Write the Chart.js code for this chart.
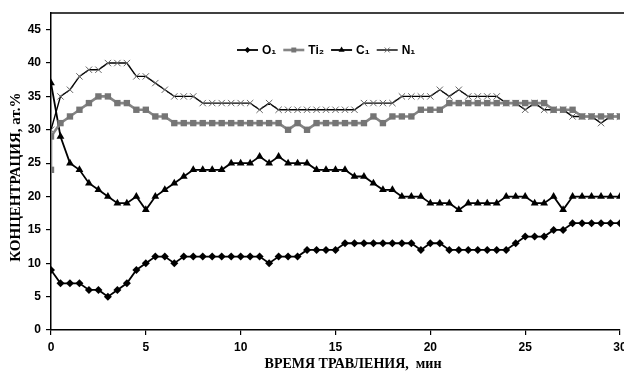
<!DOCTYPE html>
<html>
<head>
<meta charset="utf-8">
<script src="https://cdn.jsdelivr.net/npm/chart.js@4.4.1/dist/chart.umd.min.js"></script>
<style>
  html, body { margin: 0; padding: 0; background: #fff; overflow: hidden; }
  #wrap { width: 640px; height: 373px; }
</style>
</head>
<body>
<div id="wrap"><canvas id="etchChart"></canvas></div>
<script>
// etching time, min (a reading every half minute)
const minutes = [0, 0.5, 1, 1.5, 2, 2.5, 3, 3.5, 4, 4.5, 5, 5.5, 6, 6.5, 7, 7.5, 8, 8.5, 9, 9.5,
    10, 10.5, 11, 11.5, 12, 12.5, 13, 13.5, 14, 14.5, 15, 15.5, 16, 16.5, 17, 17.5, 18, 18.5, 19, 19.5,
    20, 20.5, 21, 21.5, 22, 22.5, 23, 23.5, 24, 24.5, 25, 25.5, 26, 26.5, 27, 27.5, 28, 28.5, 29, 29.5, 30];

const oxygen = [9, 7, 7, 7, 6, 6, 5, 6, 7, 9, 10, 11, 11, 10, 11, 11, 11, 11, 11, 11,
    11, 11, 11, 10, 11, 11, 11, 12, 12, 12, 12, 13, 13, 13, 13, 13, 13, 13, 13, 12,
    13, 13, 12, 12, 12, 12, 12, 12, 12, 13, 14, 14, 14, 15, 15, 16, 16, 16, 16, 16, 16];

// titanium has two readings at t = 0
const tiMinutes = [0].concat(minutes);
const titanium = [24, 29, 31, 32, 33, 34, 35, 35, 34, 34, 33, 33, 32, 32, 31, 31, 31, 31, 31, 31, 31,
    31, 31, 31, 31, 31, 30, 31, 30, 31, 31, 31, 31, 31, 31, 32, 31, 32, 32, 32, 33,
    33, 33, 34, 34, 34, 34, 34, 34, 34, 34, 34, 34, 34, 33, 33, 33, 32, 32, 32, 32, 32];

const carbon = [37, 29, 25, 24, 22, 21, 20, 19, 19, 20, 18, 20, 21, 22, 23, 24, 24, 24, 24, 25,
    25, 25, 26, 25, 26, 25, 25, 25, 24, 24, 24, 24, 23, 23, 22, 21, 21, 20, 20, 20,
    19, 19, 19, 18, 19, 19, 19, 19, 20, 20, 20, 19, 19, 20, 18, 20, 20, 20, 20, 20, 20];

const nitrogen = [30, 35, 36, 38, 39, 39, 40, 40, 40, 38, 38, 37, 36, 35, 35, 35, 34, 34, 34, 34,
    34, 34, 33, 34, 33, 33, 33, 33, 33, 33, 33, 33, 33, 34, 34, 34, 34, 35, 35, 35,
    35, 36, 35, 36, 35, 35, 35, 35, 34, 34, 33, 34, 33, 33, 33, 32, 32, 32, 31, 32, 32];

const seriesNames = ['O₁', 'Ti₂', 'C₁', 'N₁'];
const xTicks = [0, 5, 10, 15, 20, 25, 30];
const yTicks = [0, 5, 10, 15, 20, 25, 30, 35, 40, 45];

const sansBold = { family: '"Liberation Sans", Arial, sans-serif', size: 12, weight: 'bold' };
const serif = '"Liberation Serif", "Times New Roman", serif';

function pts(xs, ys) {
    return ys.map((y, i) => ({ x: xs[i], y: y }));
}

// Excel style legend drawn inside the plot area
const insideLegend = {
    id: 'insideLegend',
    afterDatasetsDraw(chart) {
        const ctx = chart.ctx;
        const area = chart.chartArea;
        const y = area.top + 37;
        let x = area.left + 186;
        ctx.save();
        ctx.font = 'bold 12px "Liberation Sans", Arial, sans-serif';
        ctx.textBaseline = 'middle';
        chart.data.datasets.forEach(ds => {
            ctx.strokeStyle = ds.borderColor;
            ctx.lineWidth = ds.borderWidth;
            ctx.beginPath();
            ctx.moveTo(x, y);
            ctx.lineTo(x + 21, y);
            ctx.stroke();
            ctx.fillStyle = ds.pointBackgroundColor;
            ctx.strokeStyle = ds.pointBorderColor;
            ctx.lineWidth = ds.pointBorderWidth;
            Chart.helpers.drawPoint(ctx, {
                pointStyle: ds.pointStyle,
                radius: ds.pointRadius - 1,
                borderWidth: ds.pointBorderWidth
            }, x + 10.5, y);
            ctx.fillStyle = '#000';
            ctx.fillText(ds.label, x + 25, y + 1);
            x += 25 + ctx.measureText(ds.label).width + 7;
        });
        ctx.restore();
    }
};

// top edge of the plot frame
const topFrame = {
    id: 'topFrame',
    afterDraw(chart) {
        const ctx = chart.ctx;
        const area = chart.chartArea;
        ctx.save();
        ctx.strokeStyle = '#000';
        ctx.lineWidth = 1.5;
        ctx.beginPath();
        ctx.moveTo(area.left, area.top);
        ctx.lineTo(chart.width, area.top);
        ctx.stroke();
        ctx.restore();
    }
};

const ctx = document.getElementById('etchChart').getContext('2d');
const etchChart = new Chart(ctx, {
    type: 'line',
    data: {
        datasets: [{
            label: seriesNames[0],
            data: pts(minutes, oxygen),
            borderColor: '#000',
            borderWidth: 1.8,
            pointStyle: 'rectRot',
            pointRadius: 4,
            pointBackgroundColor: '#000',
            pointBorderColor: '#000',
            pointBorderWidth: 0
        }, {
            label: seriesNames[1],
            data: pts(tiMinutes, titanium),
            borderColor: '#858585',
            borderWidth: 2.6,
            pointStyle: 'rect',
            pointRadius: 4.5,
            pointBackgroundColor: '#757575',
            pointBorderColor: '#757575',
            pointBorderWidth: 0
        }, {
            label: seriesNames[2],
            data: pts(minutes, carbon),
            borderColor: '#000',
            borderWidth: 1.8,
            pointStyle: 'triangle',
            pointRadius: 4.5,
            pointBackgroundColor: '#000',
            pointBorderColor: '#000',
            pointBorderWidth: 0
        }, {
            label: seriesNames[3],
            data: pts(minutes, nitrogen),
            borderColor: '#000',
            borderWidth: 1.4,
            pointStyle: 'crossRot',
            pointRadius: 4.5,
            pointBackgroundColor: '#666',
            pointBorderColor: '#666',
            pointBorderWidth: 1
        }]
    },
    options: {
        responsive: true,
        maintainAspectRatio: false,
        animation: false,
        layout: {
            padding: { left: 7, top: 13, right: 20, bottom: 0 }
        },
        elements: {
            line: { tension: 0 }
        },
        plugins: {
            legend: { display: false },
            tooltip: { enabled: false }
        },
        scales: {
            x: {
                type: 'linear',
                min: 0,
                max: 30,
                afterBuildTicks: s => { s.ticks = xTicks.map(v => ({ value: v })); },
                afterFit: s => { s.height = 43; },
                grid: { drawOnChartArea: false, tickLength: 5, color: '#000', lineWidth: 1.2 },
                border: { color: '#000', width: 1.5 },
                ticks: { color: '#000', font: sansBold, padding: 5, maxRotation: 0 },
                title: {
                    display: true,
                    // leading spaces: the original caption sits right of the axis centre
                    text: '          ВРЕМЯ ТРАВЛЕНИЯ,  мин',
                    color: '#000',
                    font: { family: serif, size: 14, weight: 'bold' },
                    padding: { top: 1, bottom: 0 }
                }
            },
            y: {
                min: 0,
                max: 47.5,
                afterBuildTicks: s => { s.ticks = yTicks.map(v => ({ value: v })); },
                afterFit: s => { s.width = 44; },
                grid: { drawOnChartArea: false, tickLength: 5, color: '#000', lineWidth: 1.2 },
                border: { color: '#000', width: 1.5 },
                ticks: { color: '#000', font: sansBold, padding: 5 },
                title: {
                    display: true,
                    text: 'КОНЦЕНТРАЦИЯ, ат.%   ',
                    color: '#000',
                    font: { family: serif, size: 15, weight: 'bold' },
                    padding: { top: 0, bottom: 0 }
                }
            }
        }
    },
    plugins: [insideLegend, topFrame]
});
</script>
</body>
</html>
